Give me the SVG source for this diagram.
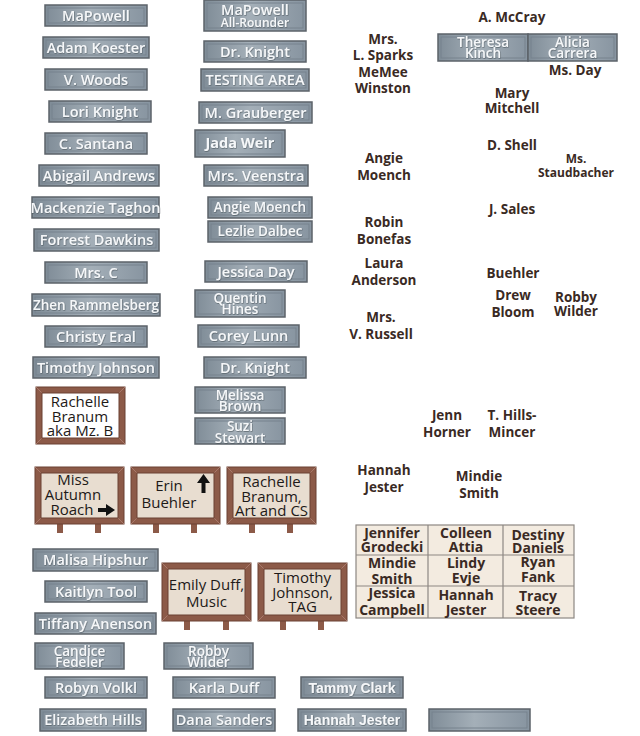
<svg xmlns="http://www.w3.org/2000/svg" width="640" height="736" viewBox="0 0 640 736">
<defs>
<linearGradient id="gPl" x1="0" y1="0" x2="1" y2="0">
<stop offset="0" stop-color="#7f8c97"/>
<stop offset="0.45" stop-color="#a4afb8"/>
<stop offset="1" stop-color="#8794a0"/>
</linearGradient>
<filter id="sh" x="-10%" y="-30%" width="120%" height="160%">
<feDropShadow dx="0.5" dy="0.7" stdDeviation="0.5" flood-color="#3c444b" flood-opacity="0.7"/>
</filter>
</defs>
<style>
.pl{fill:url(#gPl);stroke:#5c636a;stroke-width:1.5}
.pli{fill:none;stroke:#76828d;stroke-width:1}
.pt{font-family:"Open Sans","DejaVu Sans",sans-serif;font-size:14.5px;font-weight:600;fill:#f5f7f9;text-anchor:middle;filter:url(#sh)}
.p2{font-size:13.5px}
.ps{font-size:12px}
.pb{font-weight:bold}
.ar{font-family:"Liberation Sans",Arial,sans-serif;font-weight:bold;font-size:14px}
.lb{font-family:"Open Sans","DejaVu Sans",sans-serif;font-size:13.5px;font-weight:bold;fill:#3a2a24;text-anchor:middle}
.sm{font-size:12px}
.fr{fill:#8c5a48;stroke:#6a4032;stroke-width:1}
.bev{stroke:#a8786a;stroke-width:1;fill:none}
.pan{fill:#e8ddd0;stroke:#6a4032;stroke-width:1}
.panw{fill:#ffffff;stroke:#6a4032;stroke-width:1}
.post{fill:#8c5a48}
.st{font-family:"Open Sans","DejaVu Sans",sans-serif;font-size:15px;fill:#1e1a18;text-anchor:middle}
.tb{fill:#f3ebe0;stroke:#8d8782;stroke-width:1.2}
.tl{stroke:#8d8782;stroke-width:1.2}
.tt{font-family:"Open Sans","DejaVu Sans",sans-serif;font-size:14px;font-weight:bold;fill:#3a2a24;text-anchor:middle}
</style>

<!-- Left column plates -->
<g id="p-mapowell"><rect class="pl" x="45" y="5" width="102" height="21"/><rect class="pli" x="48" y="8" width="96" height="15"/><text class="pt" x="96" y="20.5">MaPowell</text></g>
<g id="p-adam-koester"><rect class="pl" x="43" y="37" width="106" height="21"/><rect class="pli" x="46" y="40" width="100" height="15"/><text class="pt" x="96" y="52.5">Adam Koester</text></g>
<g id="p-v-woods"><rect class="pl" x="45" y="69" width="102" height="21"/><rect class="pli" x="48" y="72" width="96" height="15"/><text class="pt" x="96" y="84.5">V. Woods</text></g>
<g id="p-lori-knight"><rect class="pl" x="49" y="101" width="102" height="21"/><rect class="pli" x="52" y="104" width="96" height="15"/><text class="pt" x="100" y="116.5">Lori Knight</text></g>
<g id="p-c-santana"><rect class="pl" x="45" y="133" width="102" height="21"/><rect class="pli" x="48" y="136" width="96" height="15"/><text class="pt" x="96" y="148.5">C. Santana</text></g>
<g id="p-abigail-andrews"><rect class="pl" x="39" y="165" width="120" height="21"/><rect class="pli" x="42" y="168" width="114" height="15"/><text class="pt" x="99" y="180.5">Abigail Andrews</text></g>
<g id="p-mackenzie-taghon"><rect class="pl" x="32" y="197" width="127" height="21"/><rect class="pli" x="35" y="200" width="121" height="15"/><text class="pt" x="95.5" y="212.5">Mackenzie Taghon</text></g>
<g id="p-forrest-dawkins"><rect class="pl" x="34" y="229" width="125" height="22"/><rect class="pli" x="37" y="232" width="119" height="16"/><text class="pt" x="96.5" y="245">Forrest Dawkins</text></g>
<g id="p-mrs-c"><rect class="pl" x="45" y="262" width="102" height="21"/><rect class="pli" x="48" y="265" width="96" height="15"/><text class="pt" x="96" y="277.5">Mrs. C</text></g>
<g id="p-zhen-rammelsberg"><rect class="pl" x="32" y="294" width="128" height="22"/><rect class="pli" x="35" y="297" width="122" height="16"/><text class="pt" x="96" y="310" style="font-size:13.5px">Zhen Rammelsberg</text></g>
<g id="p-christy-eral"><rect class="pl" x="45" y="326" width="102" height="21"/><rect class="pli" x="48" y="329" width="96" height="15"/><text class="pt" x="96" y="341.5">Christy Eral</text></g>
<g id="p-timothy-johnson"><rect class="pl" x="33" y="357" width="126" height="21"/><rect class="pli" x="36" y="360" width="120" height="15"/><text class="pt" x="96" y="372.5">Timothy Johnson</text></g>

<!-- Right column plates -->
<g id="p-mapowell-allrounder"><rect class="pl" x="204" y="0" width="102" height="31"/><rect class="pli" x="207" y="3" width="96" height="25"/><text class="pt" x="255" y="15">MaPowell</text><text class="pt ps" x="255" y="26.5">All-Rounder</text></g>
<g id="p-dr-knight-1"><rect class="pl" x="204" y="41" width="102" height="21"/><rect class="pli" x="207" y="44" width="96" height="15"/><text class="pt" x="255" y="56.5">Dr. Knight</text></g>
<g id="p-testing-area"><rect class="pl" x="201" y="69" width="108" height="22"/><rect class="pli" x="204" y="72" width="102" height="16"/><text class="pt" x="255" y="85">TESTING AREA</text></g>
<g id="p-m-grauberger"><rect class="pl" x="199" y="102" width="113" height="21"/><rect class="pli" x="202" y="105" width="107" height="15"/><text class="pt" x="255.5" y="117.5">M. Grauberger</text></g>
<g id="p-jada-weir"><rect class="pl" x="195" y="130" width="90" height="27"/><rect class="pli" x="198" y="133" width="84" height="21"/><text class="pt pb" x="240" y="148">Jada Weir</text></g>
<g id="p-mrs-veenstra"><rect class="pl" x="204" y="165" width="104" height="21"/><rect class="pli" x="207" y="168" width="98" height="15"/><text class="pt" x="256" y="180.5">Mrs. Veenstra</text></g>
<g id="p-angie-moench"><rect class="pl" x="208" y="197" width="104" height="21"/><rect class="pli" x="211" y="200" width="98" height="15"/><text class="pt" x="260" y="212" style="font-size:13.5px">Angie Moench</text></g>
<g id="p-lezlie-dalbec"><rect class="pl" x="208" y="221" width="104" height="21"/><rect class="pli" x="211" y="224" width="98" height="15"/><text class="pt" x="260" y="236" style="font-size:13.5px">Lezlie Dalbec</text></g>
<g id="p-jessica-day"><rect class="pl" x="205" y="261" width="102" height="21"/><rect class="pli" x="208" y="264" width="96" height="15"/><text class="pt" x="256" y="276.5">Jessica Day</text></g>
<g id="p-quentin-hines"><rect class="pl" x="195" y="290" width="90" height="27"/><rect class="pli" x="198" y="293" width="84" height="21"/><text class="pt p2" x="240" y="302.5">Quentin</text><text class="pt p2" x="240" y="314">Hines</text></g>
<g id="p-corey-lunn"><rect class="pl" x="198" y="325" width="101" height="22"/><rect class="pli" x="201" y="328" width="95" height="16"/><text class="pt" x="248.5" y="341">Corey Lunn</text></g>
<g id="p-dr-knight-2"><rect class="pl" x="204" y="357" width="102" height="21"/><rect class="pli" x="207" y="360" width="96" height="15"/><text class="pt" x="255" y="372.5">Dr. Knight</text></g>
<g id="p-melissa-brown"><rect class="pl" x="195" y="387" width="90" height="26"/><rect class="pli" x="198" y="390" width="84" height="20"/><text class="pt p2" x="240" y="399.5">Melissa</text><text class="pt p2" x="240" y="411">Brown</text></g>
<g id="p-suzi-stewart"><rect class="pl" x="195" y="418" width="90" height="26"/><rect class="pli" x="198" y="421" width="84" height="20"/><text class="pt p2" x="240" y="431">Suzi</text><text class="pt p2" x="240" y="442.5">Stewart</text></g>

<!-- Lower left plates -->
<g id="p-malisa-hipshur"><rect class="pl" x="33" y="549" width="125" height="22"/><rect class="pli" x="36" y="552" width="119" height="16"/><text class="pt" x="95.5" y="565">Malisa Hipshur</text></g>
<g id="p-kaitlyn-tool"><rect class="pl" x="45" y="581" width="102" height="21"/><rect class="pli" x="48" y="584" width="96" height="15"/><text class="pt" x="96" y="596.5">Kaitlyn Tool</text></g>
<g id="p-tiffany-anenson"><rect class="pl" x="35" y="613" width="121" height="21"/><rect class="pli" x="38" y="616" width="115" height="15"/><text class="pt" x="95.5" y="628.5">Tiffany Anenson</text></g>
<g id="p-candice-fedeler"><rect class="pl" x="35" y="643" width="89" height="26"/><rect class="pli" x="38" y="646" width="83" height="20"/><text class="pt p2" x="79.5" y="655.5">Candice</text><text class="pt p2" x="79.5" y="667">Fedeler</text></g>
<g id="p-robby-wilder"><rect class="pl" x="164" y="643" width="89" height="26"/><rect class="pli" x="167" y="646" width="83" height="20"/><text class="pt p2" x="208.5" y="655.5">Robby</text><text class="pt p2" x="208.5" y="667">Wilder</text></g>
<g id="p-robyn-volkl"><rect class="pl" x="45" y="677" width="102" height="21"/><rect class="pli" x="48" y="680" width="96" height="15"/><text class="pt" x="96" y="692.5">Robyn Volkl</text></g>
<g id="p-karla-duff"><rect class="pl" x="173" y="677" width="102" height="21"/><rect class="pli" x="176" y="680" width="96" height="15"/><text class="pt" x="224" y="692.5">Karla Duff</text></g>
<g id="p-tammy-clark"><rect class="pl" x="301" y="677" width="102" height="21"/><rect class="pli" x="304" y="680" width="96" height="15"/><text class="pt ar" x="352" y="692.5">Tammy Clark</text></g>
<g id="p-elizabeth-hills"><rect class="pl" x="40" y="709" width="106" height="22"/><rect class="pli" x="43" y="712" width="100" height="16"/><text class="pt" x="93" y="725">Elizabeth Hills</text></g>
<g id="p-dana-sanders"><rect class="pl" x="173" y="709" width="102" height="22"/><rect class="pli" x="176" y="712" width="96" height="16"/><text class="pt" x="224" y="725">Dana Sanders</text></g>
<g id="p-hannah-jester"><rect class="pl" x="298" y="709" width="108" height="22"/><rect class="pli" x="301" y="712" width="102" height="16"/><text class="pt ar" x="352" y="725">Hannah Jester</text></g>
<g id="p-empty"><rect class="pl" x="429" y="709" width="101" height="22"/><rect class="pli" x="432" y="712" width="95" height="16"/></g>

<!-- Top right plates -->
<g id="p-theresa-kinch"><rect class="pl" x="438" y="34" width="90" height="27"/><rect class="pli" x="441" y="37" width="84" height="21"/><text class="pt p2" x="483" y="46.5">Theresa</text><text class="pt p2" x="483" y="58">Kinch</text></g>
<g id="p-alicia-carrera"><rect class="pl" x="528" y="34" width="89" height="27"/><rect class="pli" x="531" y="37" width="83" height="21"/><text class="pt p2" x="572.5" y="46.5">Alicia</text><text class="pt p2" x="572.5" y="58">Carrera</text></g>

<!-- Framed boards -->
<g id="f-rachelle-mzb">
<rect class="fr" x="36" y="387" width="89" height="57"/>
<path class="bev" d="M36,387 L42,393 M125,387 L119,393 M36,444 L42,438 M125,444 L119,438"/>
<rect class="panw" x="42" y="393" width="77" height="45"/>
<text class="st" x="80" y="407">Rachelle</text><text class="st" x="80" y="421.5">Branum</text><text class="st" x="80" y="436">aka Mz. B</text>
</g>

<g id="s-miss-autumn-roach">
<rect class="post" x="57" y="524" width="6" height="9"/><rect class="post" x="95" y="524" width="6" height="9"/>
<rect class="fr" x="35" y="467" width="89" height="57"/>
<path class="bev" d="M35,467 L41,473 M124,467 L118,473 M35,524 L41,518 M124,524 L118,518"/>
<rect class="pan" x="41" y="473" width="77" height="45"/>
<text class="st" x="73" y="485">Miss</text><text class="st" x="73" y="500">Autumn</text><text class="st" x="72" y="515">Roach</text>
<path d="M98,508 h8 v-4 l9,6 l-9,6 v-4 h-8 z" fill="#111"/>
</g>

<g id="s-erin-buehler">
<rect class="post" x="153" y="524" width="6" height="9"/><rect class="post" x="191" y="524" width="6" height="9"/>
<rect class="fr" x="131" y="467" width="89" height="57"/>
<path class="bev" d="M131,467 L137,473 M220,467 L214,473 M131,524 L137,518 M220,524 L214,518"/>
<rect class="pan" x="137" y="473" width="77" height="45"/>
<text class="st" x="169" y="491">Erin</text><text class="st" x="169" y="508">Buehler</text>
<path d="M201.5,493 v-10 h-4.5 l6.5,-9 l6.5,9 h-4.5 v10 z" fill="#111"/>
</g>

<g id="s-rachelle-art">
<rect class="post" x="249" y="524" width="6" height="9"/><rect class="post" x="287" y="524" width="6" height="9"/>
<rect class="fr" x="227" y="467" width="89" height="57"/>
<path class="bev" d="M227,467 L233,473 M316,467 L310,473 M227,524 L233,518 M316,524 L310,518"/>
<rect class="pan" x="233" y="473" width="77" height="45"/>
<text class="st" x="271.5" y="487">Rachelle</text><text class="st" x="271.5" y="501.5">Branum,</text><text class="st" x="271.5" y="516">Art and CS</text>
</g>

<g id="s-emily-duff">
<rect class="post" x="184" y="621" width="6" height="9"/><rect class="post" x="223" y="621" width="6" height="9"/>
<rect class="fr" x="162" y="563" width="89" height="58"/>
<path class="bev" d="M162,563 L168,569 M251,563 L245,569 M162,621 L168,615 M251,621 L245,615"/>
<rect class="pan" x="168" y="569" width="77" height="46"/>
<text class="st" x="206.5" y="590">Emily Duff,</text><text class="st" x="206.5" y="607">Music</text>
</g>

<g id="s-timothy-tag">
<rect class="post" x="280" y="621" width="6" height="9"/><rect class="post" x="318" y="621" width="6" height="9"/>
<rect class="fr" x="258" y="563" width="89" height="58"/>
<path class="bev" d="M258,563 L264,569 M347,563 L341,569 M258,621 L264,615 M347,621 L341,615"/>
<rect class="pan" x="264" y="569" width="77" height="46"/>
<text class="st" x="302.5" y="583">Timothy</text><text class="st" x="302.5" y="597.5">Johnson,</text><text class="st" x="302.5" y="612">TAG</text>
</g>

<!-- Free labels -->
<g id="t-mccray"><text class="lb" x="512" y="22">A. McCray</text></g>
<g id="t-sparks-winston"><text class="lb" x="383" y="44">Mrs.</text><text class="lb" x="383" y="60">L. Sparks</text><text class="lb" x="383" y="77">MeMee</text><text class="lb" x="383" y="93">Winston</text></g>
<g id="t-ms-day"><text class="lb" x="575" y="75">Ms. Day</text></g>
<g id="t-mary-mitchell"><text class="lb" x="512" y="98">Mary</text><text class="lb" x="512" y="113">Mitchell</text></g>
<g id="t-d-shell"><text class="lb" x="512" y="150">D. Shell</text></g>
<g id="t-staudbacher"><text class="lb sm" x="576" y="163">Ms.</text><text class="lb sm" x="576" y="177">Staudbacher</text></g>
<g id="t-angie-moench"><text class="lb" x="384" y="163">Angie</text><text class="lb" x="384" y="180">Moench</text></g>
<g id="t-j-sales"><text class="lb" x="512" y="214">J. Sales</text></g>
<g id="t-robin-bonefas"><text class="lb" x="384" y="227">Robin</text><text class="lb" x="384" y="244">Bonefas</text></g>
<g id="t-laura-anderson"><text class="lb" x="384" y="268">Laura</text><text class="lb" x="384" y="285">Anderson</text></g>
<g id="t-buehler"><text class="lb" x="513" y="278">Buehler</text></g>
<g id="t-drew-bloom"><text class="lb" x="513" y="300">Drew</text><text class="lb" x="513" y="317">Bloom</text></g>
<g id="t-robby-wilder"><text class="lb" x="576" y="302">Robby</text><text class="lb" x="576" y="316">Wilder</text></g>
<g id="t-v-russell"><text class="lb" x="381" y="322">Mrs.</text><text class="lb" x="381" y="339">V. Russell</text></g>
<g id="t-jenn-horner"><text class="lb" x="447" y="420">Jenn</text><text class="lb" x="447" y="437">Horner</text></g>
<g id="t-hills-mincer"><text class="lb" x="512" y="420">T. Hills-</text><text class="lb" x="512" y="437">Mincer</text></g>
<g id="t-hannah-jester"><text class="lb" x="384" y="475">Hannah</text><text class="lb" x="384" y="492">Jester</text></g>
<g id="t-mindie-smith"><text class="lb" x="479" y="481">Mindie</text><text class="lb" x="479" y="498">Smith</text></g>

<!-- Table -->
<g id="tbl-seating">
<rect class="tb" x="356" y="525" width="218" height="93"/>
<line class="tl" x1="428" y1="525" x2="428" y2="618"/>
<line class="tl" x1="503" y1="525" x2="503" y2="618"/>
<line class="tl" x1="356" y1="555" x2="574" y2="555"/>
<line class="tl" x1="356" y1="586" x2="574" y2="586"/>
<text class="tt" x="392" y="538">Jennifer</text><text class="tt" x="392" y="552">Grodecki</text>
<text class="tt" x="466" y="538">Colleen</text><text class="tt" x="466" y="552">Attia</text>
<text class="tt" x="538" y="540">Destiny</text><text class="tt" x="538" y="553">Daniels</text>
<text class="tt" x="392" y="568">Mindie</text><text class="tt" x="392" y="584">Smith</text>
<text class="tt" x="466" y="568">Lindy</text><text class="tt" x="466" y="583">Evje</text>
<text class="tt" x="538" y="567">Ryan</text><text class="tt" x="538" y="582">Fank</text>
<text class="tt" x="392" y="598">Jessica</text><text class="tt" x="392" y="615">Campbell</text>
<text class="tt" x="466" y="600">Hannah</text><text class="tt" x="466" y="615">Jester</text>
<text class="tt" x="538" y="601">Tracy</text><text class="tt" x="538" y="615">Steere</text>
</g>

<g id="connectors"></g>
</svg>
